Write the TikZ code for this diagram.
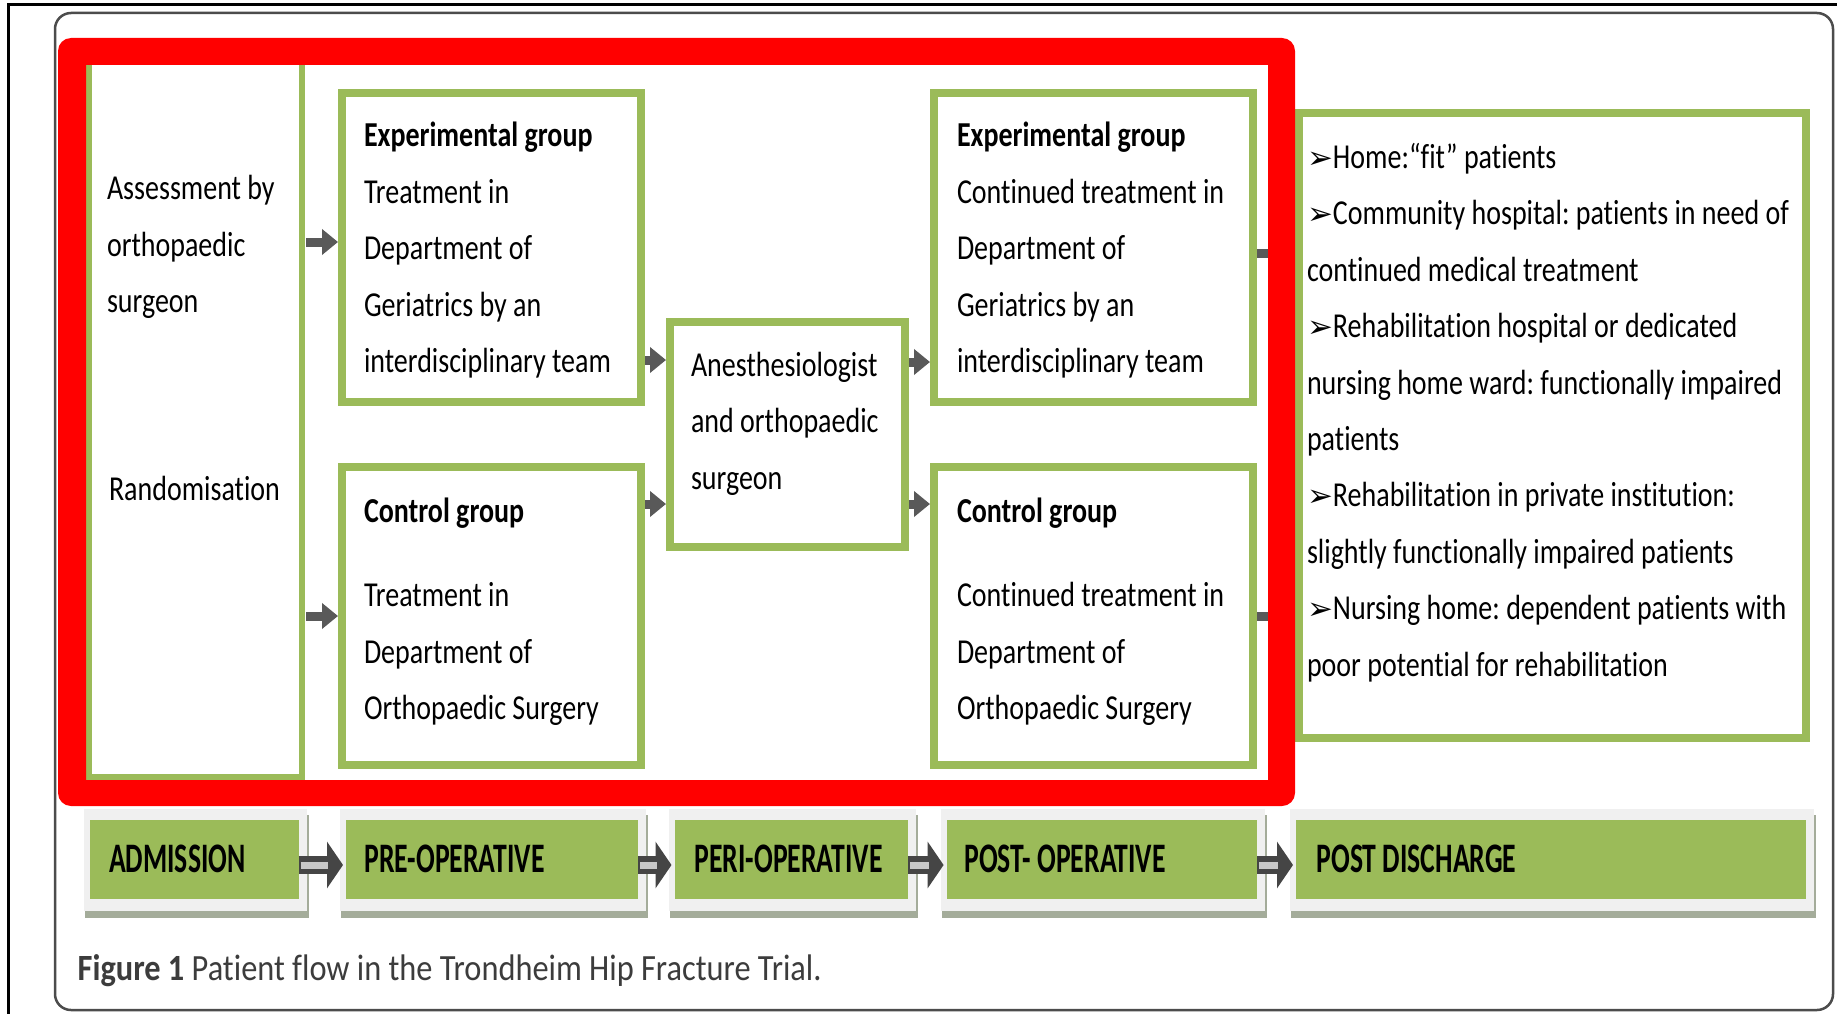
\documentclass[tikz,border=0pt]{standalone}
\usepackage{fontspec}
\setmainfont{Carlito}[FakeStretch=0.8, Ligatures=NoCommon]
\newfontfamily\phasefont{Carlito}[FakeStretch=0.66, Ligatures=NoCommon]
\newfontfamily\capfont{Carlito}[FakeStretch=0.875, Ligatures=NoCommon]
\newfontfamily\dingfont{DejaVu Sans}
\usetikzlibrary{arrows.meta}
\definecolor{olivegreen}{HTML}{9BBB59}
\definecolor{arrgrey}{HTML}{595959}
\definecolor{bigarr}{HTML}{454545}
\definecolor{stripegrey}{HTML}{C8C8C8}
\definecolor{framegrey}{HTML}{F0F0F0}
\definecolor{shadowgrey}{HTML}{A4AC9A}
\definecolor{captiongrey}{HTML}{3C3C3C}
\newcommand\bul{{\dingfont\fontsize{31}{31}\selectfont ➢}}
\newcommand\lines[1]{\begin{tabular}[t]{@{}l@{}}#1\end{tabular}}
\frenchspacing
\begin{document}
\begin{tikzpicture}[x=1pt,y=-1pt,
  gbox/.style={draw=olivegreen, line width=8pt, fill=white, inner sep=0pt, outer sep=0pt, rectangle},
  lbox/.style={gbox, line width=6pt},
  txt/.style={anchor=base west, inner sep=0pt, outer sep=0pt, font=\frenchspacing\fontsize{35}{56.5}\selectfont, text=black},
  sarrow/.style={draw=arrgrey, line width=9pt, -{Triangle[length=16pt,width=25pt]}, shorten >=4pt, shorten <=4pt},
  bigarrow/.style={draw=bigarr, line width=18pt, -{Triangle[length=16pt,width=46pt]}, shorten >=3pt},
  stripe/.style={draw=stripegrey, line width=7pt, shorten >=18pt, shorten <=2pt},
  phase/.style={fill=olivegreen, inner sep=0pt, outer sep=0pt, minimum height=79pt, rectangle},
  phasetxt/.style={anchor=base west, inner sep=0pt, outer sep=0pt, font=\phasefont\bfseries\fontsize{42}{42}\selectfont, text=black}]
\useasboundingbox (0,0) rectangle (1837,1014);
\clip (0,0) rectangle (1837,1014);
\fill[white] (0,0) rectangle (1837,1014);
% frames
\draw[black, line width=3pt] (8,1030) -- (8,5) -- (1850,5);
\draw[line width=2.5pt, gray!60!black, rounded corners=16pt] (55,13) rectangle (1833,1010);

% helper coordinates
\coordinate (y242) at (0,242);
\coordinate (y616) at (0,616);
\coordinate (y360) at (0,360);
\coordinate (y504) at (0,504);
\coordinate (y362) at (0,362);
\coordinate (y253) at (0,253);
\coordinate (ay) at (0,865);

% boxes
\node[lbox, minimum width=213pt, minimum height=715pt] (L) at (195.5,419.5) {};
\node[gbox, minimum width=299pt, minimum height=309pt] (e1) at (491.5,247.5) {};
\node[gbox, minimum width=299pt, minimum height=298pt] (c1) at (491.5,616) {};
\node[gbox, minimum width=235pt, minimum height=225pt] (an) at (787.5,434.5) {};
\node[gbox, minimum width=319pt, minimum height=309pt] (e2) at (1093.5,247.5) {};
\node[gbox, minimum width=319pt, minimum height=298pt] (c2) at (1093.5,616) {};
\node[gbox, minimum width=507pt, minimum height=625pt] (d) at (1552.5,425.5) {};

% texts
\node[txt] (Lt1) at (107,200) {\lines{Assessment by\\orthopaedic\\surgeon}};
\node[txt] (Lt2) at (109,500) {Randomisation};
\node[txt] (e1t) at (364,147) {\lines{\textbf{Experimental group}\\Treatment in\\Department of\\Geriatrics by an\\interdisciplinary team}};
\node[txt] (c1t) at (364,522) {\lines{\textbf{Control group}\\[28pt]Treatment in\\Department of\\Orthopaedic Surgery}};
\node[txt] (ant) at (691,376) {\lines{Anesthesiologist\\and orthopaedic\\surgeon}};
\node[txt] (e2t) at (957,147) {\lines{\textbf{Experimental group}\\Continued treatment in\\Department of\\Geriatrics by an\\interdisciplinary team}};
\node[txt] (c2t) at (957,522) {\lines{\textbf{Control group}\\[28pt]Continued treatment in\\Department of\\Orthopaedic Surgery}};
\node[txt] (dt) at (1307,168) {\lines{\bul Home:“fit” patients\\\bul Community hospital: patients in need of\\continued medical treatment\\\bul Rehabilitation hospital or dedicated\\nursing home ward: functionally impaired\\patients\\\bul Rehabilitation in private institution:\\slightly functionally impaired patients\\\bul Nursing home: dependent patients with\\poor potential for rehabilitation}};

% small arrows
\draw[sarrow] (L.east |- y242) -- (e1.west |- y242);
\draw[sarrow] (L.east |- y616) -- (c1.west |- y616);
\draw[sarrow] (e1.east |- y360) -- (an.west |- y360);
\draw[sarrow] (c1.east |- y504) -- (an.west |- y504);
\draw[sarrow] (an.east |- y362) -- (e2.west |- y362);
\draw[sarrow] (an.east |- y504) -- (c2.west |- y504);
\draw[sarrow, shorten >=6pt] (e2.east |- y253) -- (d.west |- y253);
\draw[sarrow, shorten >=6pt] (c2.east |- y616) -- (d.west |- y616);

% red highlight frame
\fill[red, even odd rule] [rounded corners=13pt] (58,38) rectangle (1295,806) [sharp corners] (86,65) rectangle (1268,780);

% phase bar
\foreach \xa/\xb in {90/298.5, 346/638, 674.5/908, 946.6/1257, 1296/1805.5}{
  \fill[shadowgrey] (\xa-5,815) rectangle (\xb+10,918);
  \fill[framegrey] (\xa-6,809) rectangle (\xb+8,911);
}
\node[phase, minimum width=208.5pt] (p1) at (194.25,859.5) {};
\node[phase, minimum width=292pt] (p2) at (492,859.5) {};
\node[phase, minimum width=233.5pt] (p3) at (791.25,859.5) {};
\node[phase, minimum width=310.4pt] (p4) at (1101.8,859.5) {};
\node[phase, minimum width=509.5pt] (p5) at (1550.75,859.5) {};
\node[phasetxt] (p1t) at (109,872) {ADMISSION};
\node[phasetxt] (p2t) at (364.5,872) {PRE-OPERATIVE};
\node[phasetxt] (p3t) at (694.6,872) {PERI-OPERATIVE};
\node[phasetxt] (p4t) at (964.5,872) {POST- OPERATIVE};
\node[phasetxt] (p5t) at (1316.6,872) {POST DISCHARGE};

\foreach \a/\b in {p1/p2, p2/p3, p3/p4, p4/p5}{
  \draw[bigarrow] (\a.east |- ay) -- (\b.west |- ay);
  \draw[stripe] (\a.east |- ay) -- (\b.west |- ay);
}

% caption
\node[anchor=base west, inner sep=0pt, text=captiongrey, font=\capfont\frenchspacing\fontsize{37}{37}\selectfont] (cap) at (77.5,980) {\textbf{Figure 1} Patient flow in the Trondheim Hip Fracture Trial.};
\end{tikzpicture}
\end{document}
